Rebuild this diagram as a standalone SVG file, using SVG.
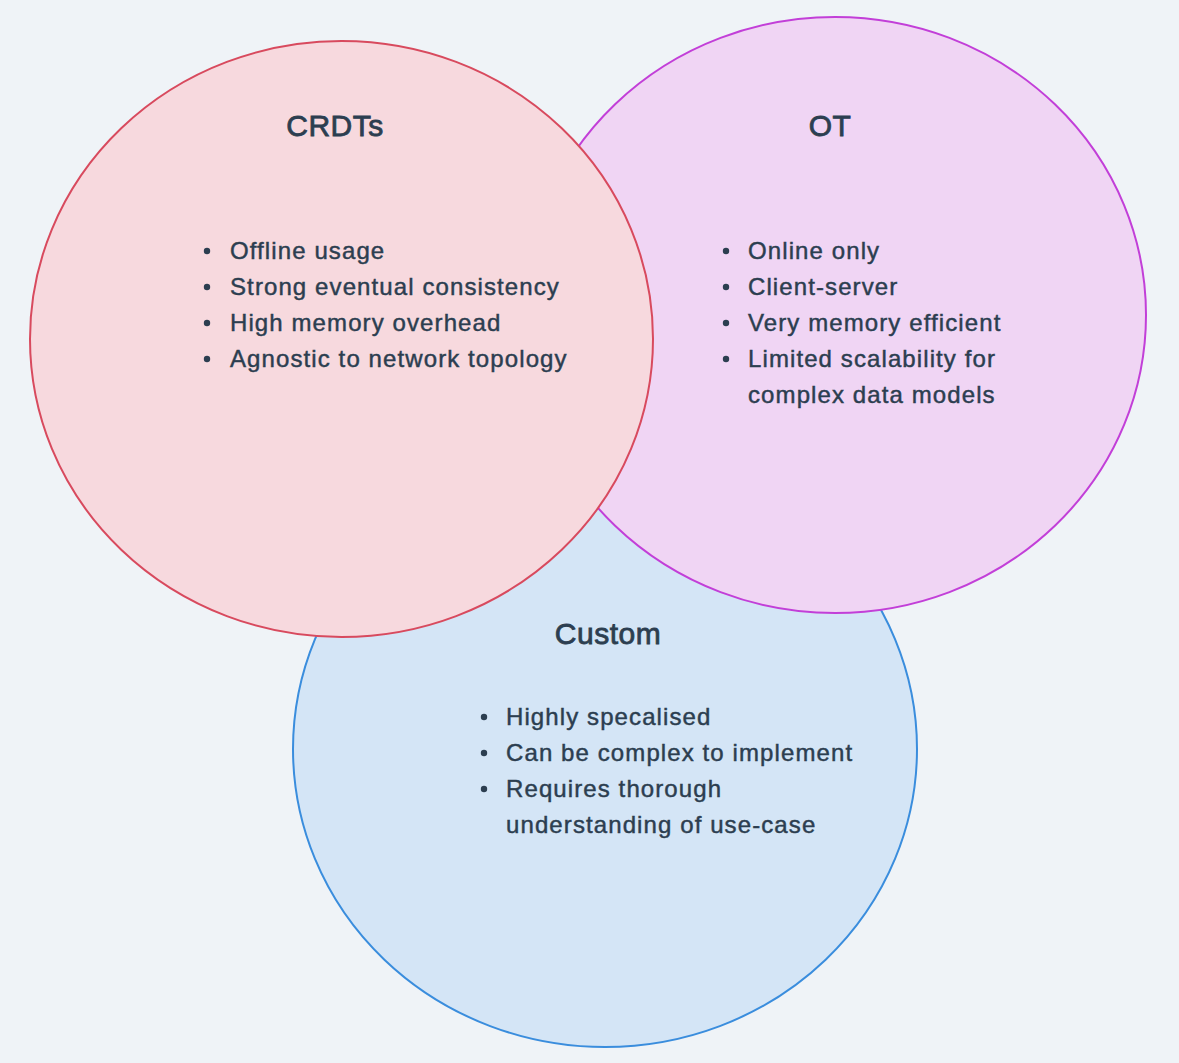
<svg xmlns="http://www.w3.org/2000/svg" width="1179" height="1063" viewBox="0 0 1179 1063">
<style>
.t{font-family:"Liberation Sans",Arial,sans-serif;fill:#2c3e50;stroke:#2c3e50;}
.title{font-size:30px;text-anchor:middle;letter-spacing:0.5px;stroke-width:0.8px;}
.item{font-size:24px;letter-spacing:1.1px;stroke-width:0.45px;}
.dot{fill:#2c3e50;}
</style>
<rect width="1179" height="1063" fill="#eff3f7"/>
<g id="custom">
<ellipse cx="605" cy="749" rx="312" ry="298" fill="#d4e5f6" stroke="#3a8ddd" stroke-width="2"/>
<text class="t title" x="608" y="644">Custom</text>
<circle class="dot" cx="484" cy="717" r="3.2"/>
<circle class="dot" cx="484" cy="753" r="3.2"/>
<circle class="dot" cx="484" cy="789" r="3.2"/>
<text class="t item" x="506" y="725">Highly specalised</text>
<text class="t item" x="506" y="761">Can be complex to implement</text>
<text class="t item" x="506" y="797">Requires thorough</text>
<text class="t item" x="506" y="833">understanding of use-case</text>
</g>
<g id="ot">
<ellipse cx="835" cy="315" rx="311" ry="298" fill="#f0d5f4" stroke="#c23fd8" stroke-width="2"/>
<text class="t title" x="830" y="136">OT</text>
<circle class="dot" cx="726" cy="251" r="3.2"/>
<circle class="dot" cx="726" cy="287" r="3.2"/>
<circle class="dot" cx="726" cy="323" r="3.2"/>
<circle class="dot" cx="726" cy="359" r="3.2"/>
<text class="t item" x="748" y="259">Online only</text>
<text class="t item" x="748" y="295">Client-server</text>
<text class="t item" x="748" y="331">Very memory efficient</text>
<text class="t item" x="748" y="367">Limited scalability for</text>
<text class="t item" x="748" y="403">complex data models</text>
</g>
<g id="crdts">
<ellipse cx="341.5" cy="339" rx="311.5" ry="298" fill="#f7d9de" stroke="#d84a5e" stroke-width="2"/>
<text class="t title" x="335" y="136">CRDTs</text>
<circle class="dot" cx="207" cy="251" r="3.2"/>
<circle class="dot" cx="207" cy="287" r="3.2"/>
<circle class="dot" cx="207" cy="323" r="3.2"/>
<circle class="dot" cx="207" cy="359" r="3.2"/>
<text class="t item" x="230" y="259">Offline usage</text>
<text class="t item" x="230" y="295">Strong eventual consistency</text>
<text class="t item" x="230" y="331">High memory overhead</text>
<text class="t item" x="230" y="367">Agnostic to network topology</text>
</g>
<g id="connectors"/>
</svg>
